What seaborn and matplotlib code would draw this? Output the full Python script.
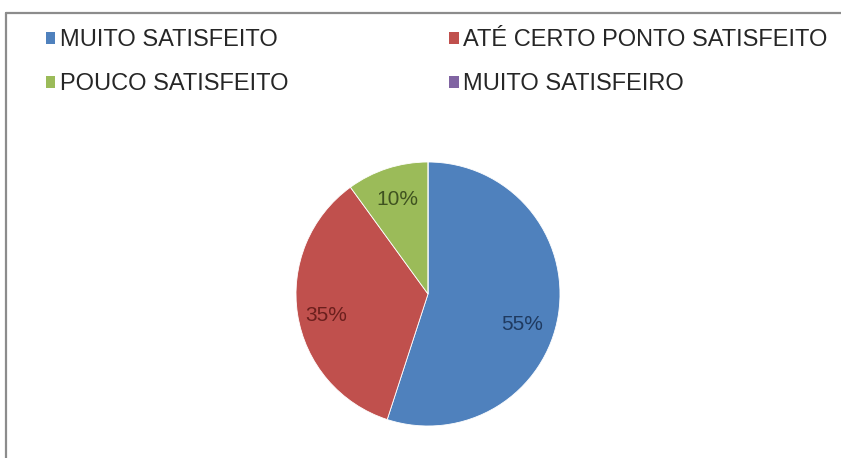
import matplotlib
matplotlib.use("Agg")
import matplotlib.pyplot as plt
import seaborn as sns
import numpy as np
from matplotlib.patches import Patch
from matplotlib.lines import Line2D

# Survey answers and their shares (%)
categories = ["MUITO SATISFEITO", "ATÉ CERTO PONTO SATISFEITO",
              "POUCO SATISFEITO", "MUITO SATISFEIRO"]
shares = [55, 35, 10, 0]
slice_colors = ["#4F81BD", "#C0504D", "#9BBB59", "#8064A2"]
label_colors = ["#1F3A60", "#6B1F1D", "#3F5220", "#3F2F55"]

sns.set_theme(style="white")
plt.rcParams["font.family"] = ["Liberation Sans", "DejaVu Sans"]

W, H = 841, 458
fig = plt.figure(figsize=(W / 100, H / 100), dpi=100)
fig.patch.set_facecolor("white")

# Pie axes: centre and radius in pixels
cx, cy, r = 428, 294, 132
ax = fig.add_axes([(cx - r) / W, (H - cy - r) / H, 2 * r / W, 2 * r / H])

wedges, _ = ax.pie(shares, colors=slice_colors, startangle=90, counterclock=False,
                   radius=1.0, wedgeprops=dict(edgecolor="white", linewidth=0.6))
ax.set_xlim(-1, 1)
ax.set_ylim(-1, 1)
ax.set_aspect("equal")
ax.axis("off")

# Percentage labels placed inside each non-empty wedge
label_dist = [0.75, 0.79, 0.75, 0.75]
label_shift = [-9, 3, 0, 0]  # extra angular offset (degrees)
for w, v, d, s, c in zip(wedges, shares, label_dist, label_shift, label_colors):
    if v == 0:
        continue
    ang = np.deg2rad((w.theta1 + w.theta2) / 2 + s)
    ax.text(d * np.cos(ang), d * np.sin(ang), f"{v}%", ha="center", va="center",
            fontsize=15, color=c)

# Legend in two columns across the top, filled row by row
handles = [Patch(facecolor=c, edgecolor="none") for c in slice_colors]
order = [0, 2, 1, 3]
fig.legend([handles[i] for i in order], [categories[i] for i in order],
           ncol=2, loc="upper left",
           bbox_to_anchor=(46 / W, 1 - 29 / H), frameon=False,
           fontsize=17, handlelength=0.4, handleheight=0.4, handletextpad=0.2,
           columnspacing=6.8, labelspacing=0.95, labelcolor="#262626",
           borderpad=0, borderaxespad=0)

# Chart area border (left and top edges)
fig.add_artist(Line2D([6 / W, 6 / W], [0, 1 - 13 / H], transform=fig.transFigure,
                      color="#8C8C8C", linewidth=1.6))
fig.add_artist(Line2D([6 / W, 1], [1 - 13 / H, 1 - 13 / H], transform=fig.transFigure,
                      color="#8C8C8C", linewidth=1.6))

fig.savefig("out.png", dpi=100, facecolor="white")
